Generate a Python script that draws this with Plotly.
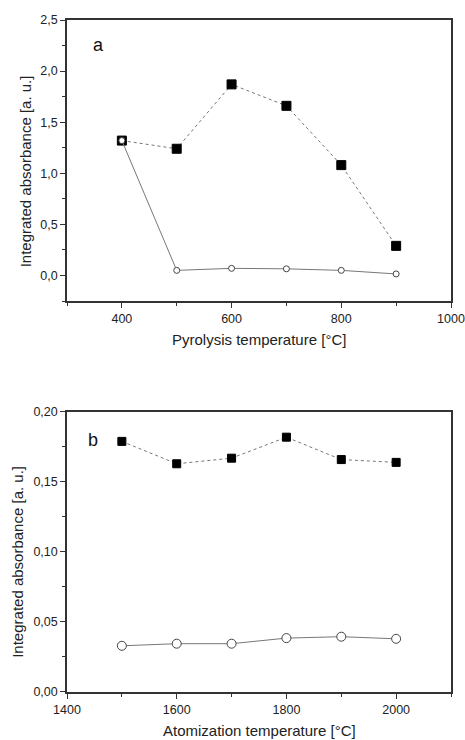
import plotly.graph_objects as go

# Panel a: pyrolysis
pyro_temp = [400, 500, 600, 700, 800, 900]
pyro_squares = [1.32, 1.24, 1.87, 1.66, 1.08, 0.29]
pyro_circles = [1.32, 0.05, 0.07, 0.065, 0.05, 0.015]

# Panel b: atomization
atom_temp = [1500, 1600, 1700, 1800, 1900, 2000]
atom_squares = [0.179, 0.163, 0.167, 0.182, 0.166, 0.164]
atom_circles = [0.033, 0.0345, 0.0345, 0.0385, 0.0395, 0.038]

FONT = "Liberation Sans, Arial, sans-serif"
LINE_GRAY = "#777777"
AXIS_COL = "#333333"

fig = go.Figure()

fig.add_trace(go.Scatter(x=pyro_temp, y=pyro_squares, mode="lines+markers",
                         line=dict(color=LINE_GRAY, width=1, dash="dot"),
                         marker=dict(symbol="square", size=9, color="black",
                                     line=dict(color="black", width=1)),
                         xaxis="x", yaxis="y", showlegend=False))
fig.add_trace(go.Scatter(x=pyro_temp, y=pyro_circles, mode="lines+markers",
                         line=dict(color=LINE_GRAY, width=1),
                         marker=dict(symbol="circle", size=6, color="white",
                                     line=dict(color="#444444", width=1)),
                         xaxis="x", yaxis="y", showlegend=False))
fig.add_trace(go.Scatter(x=atom_temp, y=atom_squares, mode="lines+markers",
                         line=dict(color=LINE_GRAY, width=1, dash="dot"),
                         marker=dict(symbol="square", size=8, color="black",
                                     line=dict(color="black", width=1)),
                         xaxis="x2", yaxis="y2", showlegend=False))
fig.add_trace(go.Scatter(x=atom_temp, y=atom_circles, mode="lines+markers",
                         line=dict(color=LINE_GRAY, width=1),
                         marker=dict(symbol="circle", size=9, color="white",
                                     line=dict(color="#444444", width=1)),
                         xaxis="x2", yaxis="y2", showlegend=False))

common = dict(showline=True, linecolor=AXIS_COL, linewidth=1.5, mirror=True,
              ticks="outside", ticklen=5, tickwidth=1, tickcolor=AXIS_COL,
              showgrid=False, zeroline=False, automargin=False,
              tickfont=dict(family=FONT, size=12.5, color="#222222"))

fig.update_layout(
    width=465, height=740,
    margin=dict(l=67, r=14, t=20, b=48, autoexpand=False),
    paper_bgcolor="white", plot_bgcolor="white",
    separators=", ",
    font=dict(family=FONT, color="#222222"),
    xaxis=dict(domain=[0, 1], anchor="y", range=[300, 1000], dtick=200, tick0=0,
               tickformat="d",
               minor=dict(ticks="outside", ticklen=3, dtick=100, tick0=0, tickcolor=AXIS_COL),
               **common),
    yaxis=dict(domain=[0.5818, 1], anchor="x", range=[-0.25, 2.5], dtick=0.5, tick0=0,
               tickformat=".1f",
               minor=dict(ticks="outside", ticklen=3, dtick=0.25, tick0=0, tickcolor=AXIS_COL),
               **common),
    xaxis2=dict(domain=[0, 1], anchor="y2", range=[1400, 2100], dtick=200, tick0=0,
                tickformat="d",
                minor=dict(ticks="outside", ticklen=3, dtick=100, tick0=0, tickcolor=AXIS_COL),
                **common),
    yaxis2=dict(domain=[0, 0.4167], anchor="x2", range=[0, 0.2], dtick=0.05, tick0=0,
                tickformat=".2f",
                minor=dict(ticks="outside", ticklen=3, dtick=0.025, tick0=0, tickcolor=AXIS_COL),
                **common),
)

tfont = dict(family=FONT, size=15, color="#222222")
base = dict(xref="paper", yref="paper", showarrow=False, xanchor="center", yanchor="middle")
ann = [
    dict(text="Integrated absorbance [a. u.]", x=-0.109, y=0.775, textangle=-90, font=tfont, **base),
    dict(text="Integrated absorbance [a. u.]", x=-0.128, y=0.1935, textangle=-90, font=tfont, **base),
    dict(text="Pyrolysis temperature [°C]", x=0.5, y=0.524, font=tfont, **base),
    dict(text="Atomization temperature [°C]", x=0.5, y=-0.058, font=tfont, **base),
    dict(text="a", x=0.081, y=0.963, font=dict(family=FONT, size=18, color="#111111"), **base),
    dict(text="b", x=0.069, y=0.375, font=dict(family=FONT, size=18, color="#111111"), **base),
]
fig.update_layout(annotations=ann)

fig.write_html("out.html", config={"displayModeBar": False},
               post_script="document.body.style.margin='0';document.body.style.overflow='hidden';")
